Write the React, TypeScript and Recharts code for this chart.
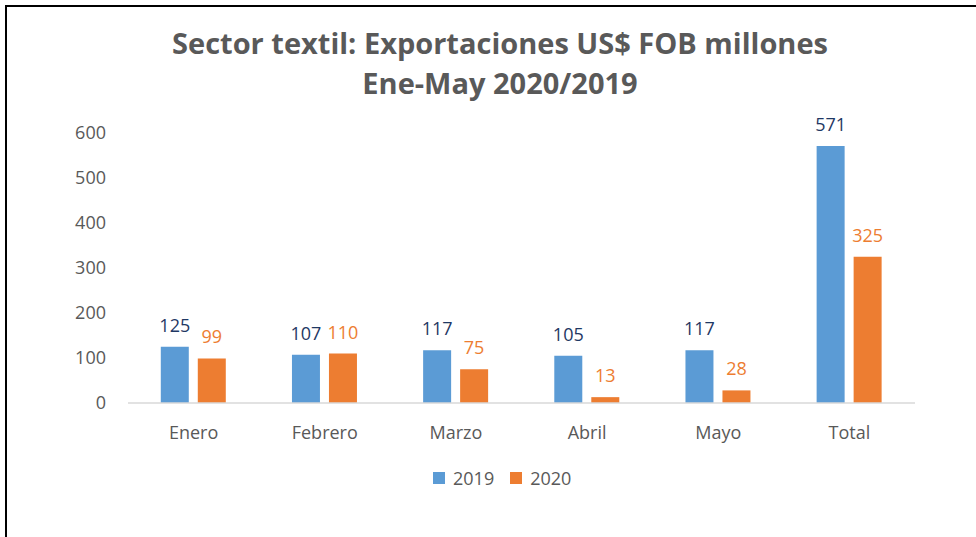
import React from 'react';
import { BarChart, Bar, XAxis, YAxis, LabelList } from 'recharts';

// Sector textil: exportaciones US$ FOB millones, Ene-May
const months = ['Enero', 'Febrero', 'Marzo', 'Abril', 'Mayo', 'Total'];
const exports2019 = [125, 107, 117, 105, 117, 571];
const exports2020 = [99, 110, 75, 13, 28, 325];
const yTicks = [0, 100, 200, 300, 400, 500, 600];

const data = months.map((m, i) => ({ month: m, y2019: exports2019[i], y2020: exports2020[i] }));

const FONT = '"Open Sans", "Noto Sans", sans-serif';
const GREY = '#595959';
const BLUE = '#5B9BD5';
const ORANGE = '#ED7D31';

export default function App() {
  return (
    <div style={{ position: 'absolute', left: 0, top: 0, width: 976, height: 537, overflow: 'hidden', background: '#fff', fontFamily: FONT }}>
      {/* chart frame */}
      <div style={{ position: 'absolute', left: 5, top: 5, width: 1000, height: 600, border: '2px solid #000', boxSizing: 'border-box' }} />

      {/* Title */}
      <div style={{ position: 'absolute', left: 0, width: 1000, top: 23, textAlign: 'center', color: GREY, fontWeight: 700, fontSize: 29, lineHeight: '40px' }}>
        Sector textil: Exportaciones US$ FOB millones
        <br />
        Ene-May 2020/2019
      </div>

      <div style={{ position: 'absolute', left: 0, top: 0 }}>
        <BarChart
          width={976}
          height={537}
          data={data}
          margin={{ top: 133, right: 61, left: 0, bottom: 104 }}
          barCategoryGap="25%"
          barGap={9}
        >
          <XAxis
            dataKey="month"
            height={30}
            tickLine={false}
            tickSize={0}
            tickMargin={23}
            axisLine={{ stroke: '#D9D9D9', strokeWidth: 1.5 }}
            tick={{ fill: GREY, fontSize: 18, fontFamily: FONT }}
          />
          <YAxis
            width={128}
            domain={[0, 600]}
            ticks={yTicks}
            axisLine={false}
            tickLine={false}
            tickSize={0}
            tickMargin={22}
            tick={{ fill: GREY, fontSize: 18, fontFamily: FONT }}
          />
          <Bar dataKey="y2019" fill={BLUE} isAnimationActive={false}>
            <LabelList dataKey="y2019" position="top" offset={15} fill="#1F3864" fontSize={18} fontFamily={FONT} />
          </Bar>
          <Bar dataKey="y2020" fill={ORANGE} isAnimationActive={false}>
            <LabelList dataKey="y2020" position="top" offset={15} fill={ORANGE} fontSize={18} fontFamily={FONT} />
          </Bar>
        </BarChart>
      </div>

      {/* Legend */}
      <div style={{ position: 'absolute', left: 433, top: 466, display: 'flex', alignItems: 'center', color: GREY, fontSize: 18 }}>
        <span style={{ width: 12, height: 12, background: BLUE, display: 'inline-block', marginRight: 8 }} />
        <span style={{ marginRight: 16 }}>2019</span>
        <span style={{ width: 12, height: 12, background: ORANGE, display: 'inline-block', marginRight: 8 }} />
        <span>2020</span>
      </div>
    </div>
  );
}
